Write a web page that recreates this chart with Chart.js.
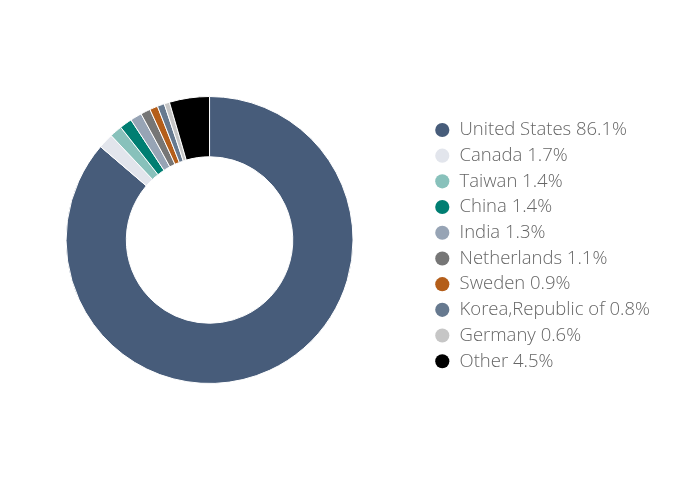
<!DOCTYPE html>
<html>
<head>
<meta charset="utf-8">
<script src="https://cdn.jsdelivr.net/npm/chart.js@4"></script>
<style>
  html, body { margin: 0; padding: 0; background: #fff; overflow: hidden; }
  #wrap { width: 696px; height: 490px; position: relative; overflow: hidden; }
  #inner { position: absolute; left: -8px; top: 0; width: 704px; height: 490px; }
</style>
</head>
<body>
<div id="wrap"><div id="inner"><canvas id="chart"></canvas></div></div>
<script>
// Share of total by country (%)
const countries = ['United States', 'Canada', 'Taiwan', 'China', 'India', 'Netherlands', 'Sweden', 'Korea,Republic of', 'Germany', 'Other'];
const shares = [86.1, 1.7, 1.4, 1.4, 1.3, 1.1, 0.9, 0.8, 0.6, 4.5];
const colors = ['#475c7a', '#e2e5ec', '#88c1bb', '#007e72', '#97a4b5', '#767676', '#b45e1a', '#66798f', '#c6c6c6', '#000000'];

const ctx = document.getElementById('chart').getContext('2d');
new Chart(ctx, {
  type: 'doughnut',
  data: {
    labels: countries,
    datasets: [{
      data: shares,
      backgroundColor: colors,
      borderColor: '#ffffff',
      borderWidth: 1
    }]
  },
  options: {
    responsive: true,
    maintainAspectRatio: false,
    animation: false,
    cutout: '58%',
    layout: {
      padding: { top: 96, bottom: 106, left: 0, right: 36 }
    },
    plugins: {
      tooltip: { enabled: false },
      legend: {
        position: 'right',
        // empty title only nudges the items down a little
        title: {
          display: true,
          text: ' ',
          font: { size: 1 },
          padding: { top: 5, bottom: 5 }
        },
        labels: {
          usePointStyle: true,
          pointStyle: 'circle',
          boxWidth: 16,
          boxHeight: 10,
          padding: 7.2,
          color: '#000',
          font: { family: '"Open Sans", sans-serif', size: 18.5, weight: 300 },
          generateLabels: (chart) => countries.map((name, i) => ({
            text: name + ' ' + shares[i].toFixed(1) + '%',
            fillStyle: colors[i],
            strokeStyle: colors[i],
            lineWidth: 0,
            pointStyle: 'circle',
            hidden: false,
            index: i
          }))
        }
      }
    }
  }
});
</script>
</body>
</html>
